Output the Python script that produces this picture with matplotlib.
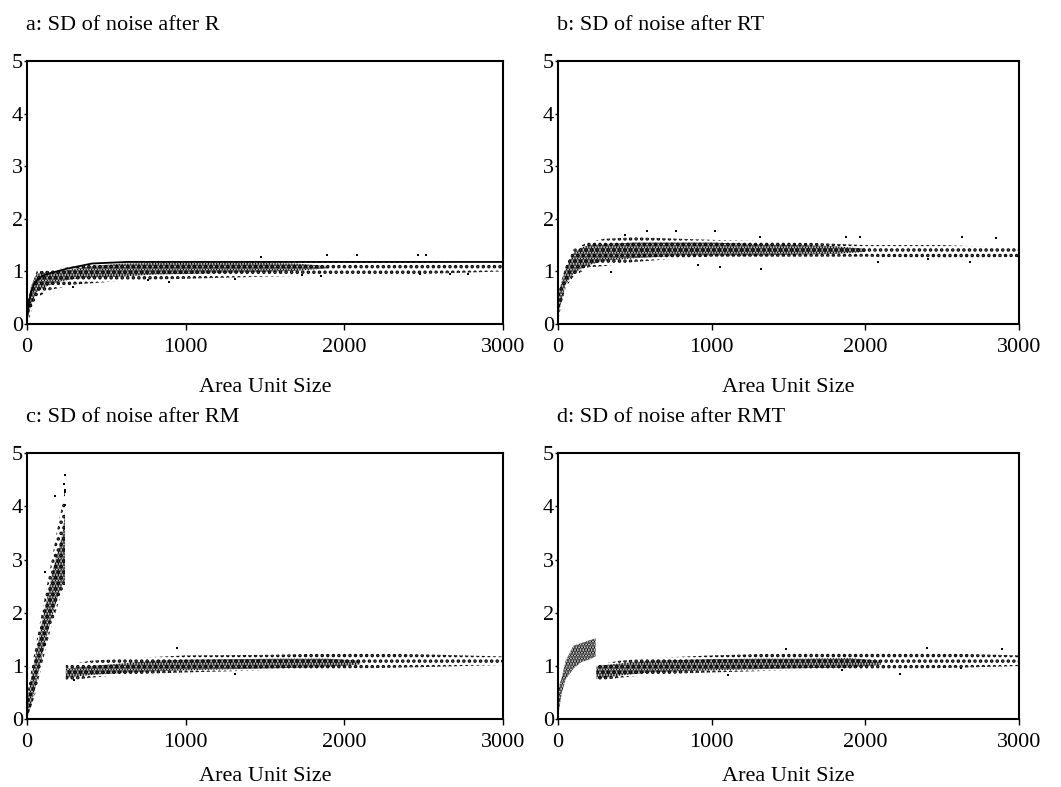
import matplotlib.pyplot as plt

plt.rcParams['font.family'] = ['Liberation Serif', 'DejaVu Serif']
plt.rcParams['hatch.linewidth'] = 1.7

titles = ["a: SD of noise after R", "b: SD of noise after RT",
          "c: SD of noise after RM", "d: SD of noise after RMT"]
x_ticks = [0, 1000, 2000, 3000]
y_ticks = [0, 1, 2, 3, 4, 5]
x_label = "Area Unit Size"

# --- panel a: cloud read as bands (dense core + sparse fringe) and the fitted curve
a_core_x = [0, 25, 60, 100, 150, 200, 300, 400, 600, 800, 1000, 1200, 1500, 1700, 1900]
a_core_lo = [0.05, 0.35, 0.6, 0.68, 0.75, 0.8, 0.86, 0.88, 0.9, 0.94, 0.95, 0.97, 0.99, 1.01, 1.06]
a_core_hi = [0.3, 0.72, 0.95, 0.98, 0.98, 1.0, 1.05, 1.1, 1.15, 1.16, 1.16, 1.16, 1.16, 1.15, 1.1]
a_fringe_x = [0, 60, 150, 300, 600, 1000, 1500, 2000, 2500, 3000]
a_fringe_lo = [0.0, 0.5, 0.65, 0.75, 0.82, 0.86, 0.9, 0.93, 0.95, 1.0]
a_fringe_hi = [0.4, 1.0, 1.02, 1.1, 1.17, 1.19, 1.19, 1.19, 1.18, 1.14]
a_curve_x = [0, 10, 25, 50, 100, 150, 250, 330, 410, 630, 3000]
a_curve_y = [0.1, 0.35, 0.6, 0.8, 0.92, 0.97, 1.05, 1.1, 1.15, 1.18, 1.18]
a_out_x = [1893, 2082, 2462, 2515, 1731, 1851, 2477, 2666, 2781, 292, 765, 895, 1311, 1475]
a_out_y = [1.31, 1.31, 1.31, 1.31, 0.93, 0.91, 0.96, 0.96, 0.96, 0.71, 0.84, 0.80, 0.85, 1.27]

# --- panel b
b_core_x = [0, 25, 50, 100, 150, 200, 300, 500, 800, 1000, 1300, 1600, 1800, 2000]
b_core_lo = [0.15, 0.45, 0.75, 0.95, 1.05, 1.12, 1.2, 1.25, 1.3, 1.3, 1.3, 1.32, 1.33, 1.37]
b_core_hi = [0.55, 0.82, 1.05, 1.35, 1.45, 1.5, 1.52, 1.55, 1.55, 1.55, 1.52, 1.5, 1.48, 1.43]
b_fringe_x = [0, 25, 50, 100, 200, 300, 500, 800, 1000, 1300, 1600, 2000, 2500, 3000]
b_fringe_lo = [0.05, 0.4, 0.7, 0.9, 1.08, 1.1, 1.18, 1.25, 1.28, 1.28, 1.28, 1.28, 1.25, 1.27]
b_fringe_hi = [0.6, 0.85, 1.1, 1.42, 1.56, 1.62, 1.65, 1.62, 1.6, 1.58, 1.55, 1.5, 1.5, 1.45]
b_out_x = [581, 765, 1025, 345, 908, 1053, 1324, 1313, 436, 2629, 2852, 2679, 1877, 1964, 2083, 2408]
b_out_y = [1.77, 1.77, 1.77, 0.99, 1.12, 1.08, 1.04, 1.66, 1.69, 1.66, 1.63, 1.18, 1.66, 1.66, 1.18, 1.23]

# --- panel c: steep early branch, then the flat cloud
c_rise_x = [0, 25, 50, 75, 100, 125, 150, 175, 200, 225, 240]
c_rise_lo = [0.0, 0.25, 0.55, 0.9, 1.25, 1.55, 1.85, 2.1, 2.35, 2.55, 2.6]
c_rise_hi = [0.35, 0.75, 1.15, 1.5, 1.9, 2.25, 2.6, 2.95, 3.2, 3.5, 3.9]
c_rfringe_x = [0, 50, 100, 150, 200, 240]
c_rfringe_lo = [0.0, 0.45, 1.1, 1.7, 2.2, 2.5]
c_rfringe_hi = [0.45, 1.3, 2.1, 2.9, 3.7, 4.3]
c_core_x = [245, 300, 400, 600, 800, 1000, 1300, 1600, 1900, 2100]
c_core_lo = [0.78, 0.8, 0.83, 0.87, 0.9, 0.92, 0.94, 0.96, 0.98, 1.03]
c_core_hi = [0.95, 0.97, 1.0, 1.05, 1.1, 1.12, 1.13, 1.14, 1.14, 1.1]
c_fringe_x = [245, 400, 600, 1000, 1500, 2000, 2500, 3000]
c_fringe_lo = [0.72, 0.78, 0.84, 0.88, 0.92, 0.95, 0.98, 1.02]
c_fringe_hi = [1.02, 1.1, 1.14, 1.2, 1.21, 1.24, 1.22, 1.18]
c_out_x = [239, 235, 176, 239, 239, 113, 241, 945, 1313, 294]
c_out_y = [4.59, 4.42, 4.19, 4.26, 4.03, 2.77, 4.31, 1.33, 0.86, 0.74]

# --- panel d
d_rise_x = [0, 25, 50, 100, 150, 200, 245]
d_rise_lo = [0.05, 0.5, 0.75, 0.95, 1.07, 1.12, 1.18]
d_rise_hi = [0.55, 0.8, 1.1, 1.38, 1.43, 1.48, 1.52]
d_core_x = [250, 400, 600, 1000, 1300, 1600, 1900, 2100]
d_core_lo = [0.76, 0.82, 0.88, 0.92, 0.94, 0.96, 0.97, 1.02]
d_core_hi = [1.0, 1.05, 1.1, 1.13, 1.14, 1.14, 1.15, 1.1]
d_fringe_x = [250, 400, 600, 1000, 1500, 2000, 2500, 3000]
d_fringe_lo = [0.72, 0.78, 0.84, 0.88, 0.92, 0.94, 0.96, 1.0]
d_fringe_hi = [1.02, 1.1, 1.15, 1.2, 1.24, 1.25, 1.24, 1.2]
d_out_x = [1482, 2887, 2226, 2625, 2399, 1851, 1109]
d_out_y = [1.32, 1.32, 0.86, 0.96, 1.33, 0.93, 0.83]


def sparse_band(ax, x, lo, hi):
    # loose black stipple for the thin outer part of a cloud
    ax.fill_between(x, lo, hi, facecolor='none', edgecolor='black',
                    hatch='...', linewidth=0)


def dense_band(ax, x, lo, hi):
    # tight stipple where the points pile up
    ax.fill_between(x, lo, hi, facecolor='none', edgecolor='black',
                    hatch='......', linewidth=0)


def outliers(ax, x, y):
    ax.scatter(x, y, s=2.5, c='black', marker='s', linewidths=0)


fig = plt.figure(figsize=(10.61, 7.87), dpi=100)
boxes = [[0.0254, 0.5883, 0.4487, 0.3342], [0.5259, 0.5883, 0.4345, 0.3342],
         [0.0254, 0.0860, 0.4487, 0.3384], [0.5259, 0.0860, 0.4345, 0.3384]]
axes = [fig.add_axes(b) for b in boxes]

ax = axes[0]
sparse_band(ax, a_fringe_x, a_fringe_lo, a_fringe_hi)
dense_band(ax, a_core_x, a_core_lo, a_core_hi)
outliers(ax, a_out_x, a_out_y)
ax.plot(a_curve_x, a_curve_y, color='black', lw=1.3)

ax = axes[1]
sparse_band(ax, b_fringe_x, b_fringe_lo, b_fringe_hi)
dense_band(ax, b_core_x, b_core_lo, b_core_hi)
outliers(ax, b_out_x, b_out_y)

ax = axes[2]
sparse_band(ax, c_rfringe_x, c_rfringe_lo, c_rfringe_hi)
dense_band(ax, c_rise_x, c_rise_lo, c_rise_hi)
sparse_band(ax, c_fringe_x, c_fringe_lo, c_fringe_hi)
dense_band(ax, c_core_x, c_core_lo, c_core_hi)
outliers(ax, c_out_x, c_out_y)

ax = axes[3]
dense_band(ax, d_rise_x, d_rise_lo, d_rise_hi)
sparse_band(ax, d_fringe_x, d_fringe_lo, d_fringe_hi)
dense_band(ax, d_core_x, d_core_lo, d_core_hi)
outliers(ax, d_out_x, d_out_y)

for i, (ax, title, box) in enumerate(zip(axes, titles, boxes)):
    ax.set_xlim(0, 3000)
    ax.set_ylim(0, 5)
    ax.set_xticks(x_ticks)
    ax.set_yticks(y_ticks)
    ax.set_xlabel(x_label, fontsize=16, labelpad=15 if i < 2 else 11)
    ax.tick_params(axis='x', direction='out', length=4, width=1, pad=6, labelsize=16)
    ax.tick_params(axis='y', direction='out', length=2.5, width=1, pad=0.5, labelsize=16)
    for sp in ax.spines.values():
        sp.set_linewidth(1.5)
    fig.text(box[0] - 0.001, box[1] + box[3] + 0.045, title, fontsize=16,
             ha='left', va='center')

fig.savefig('out.png', dpi=100)
